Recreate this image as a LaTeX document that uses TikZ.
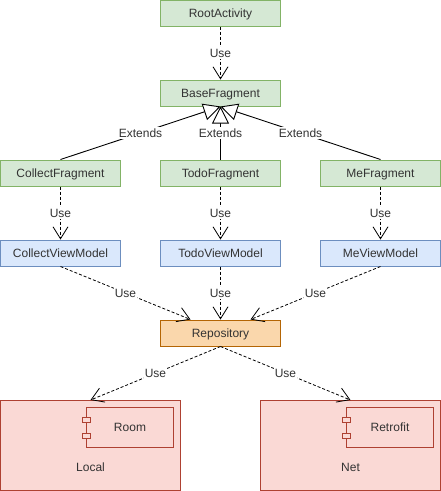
\documentclass[tikz,border=0pt]{standalone}
\usepackage{fontspec}
\setmainfont{Liberation Sans}
\definecolor{greenFill}{HTML}{D5E8D4}
\definecolor{greenLine}{HTML}{82B366}
\definecolor{blueFill}{HTML}{DAE8FC}
\definecolor{blueLine}{HTML}{6C8EBF}
\definecolor{orangeFill}{HTML}{FAD7AC}
\definecolor{orangeLine}{HTML}{B46504}
\definecolor{redFill}{HTML}{FAD9D5}
\definecolor{redLine}{HTML}{AE4132}
\definecolor{textGrey}{HTML}{333333}
\usetikzlibrary{arrows.meta, calc}
\tikzset{
  box/.style={draw, line width=1pt, minimum width=120pt, minimum height=26pt, inner sep=0pt, text=textGrey, text height=9pt, text depth=1pt},
  fragment/.style={box, fill=greenFill, draw=greenLine},
  viewmodel/.style={box, fill=blueFill, draw=blueLine},
  repo/.style={box, fill=orangeFill, draw=orangeLine},
  group/.style={draw=redLine, fill=redFill, line width=1pt, minimum width=180pt, minimum height=90pt, inner sep=0pt},
  component/.style={draw=redLine, fill=redFill, line width=1pt, minimum width=87pt, minimum height=40pt, inner sep=0pt, text=textGrey},
  port/.style={draw=redLine, fill=redFill, line width=1pt, minimum width=8pt, minimum height=5pt, inner sep=0pt},
  caption/.style={text=textGrey},
  use/.style={densely dashed, line width=0.8pt, -{Straight Barb[length=12pt,width=15pt,line width=0.8pt]}},
  extends/.style={line width=0.9pt, -{Triangle[open,length=17pt,width=17pt,fill=white,line width=0.9pt]}},
  lbl/.style={fill=white, inner sep=1pt, text=textGrey, pos=0.5, text height=9pt, text depth=1pt}
}
\begin{document}
\begin{tikzpicture}[x=1pt, y=-1pt, font=\fontsize{12}{14}\selectfont]
  \useasboundingbox (0,0) rectangle (441,491);
  % fragments
  \node[fragment] (root) at (220.5,13) {RootActivity};
  \node[fragment] (base) at (220.5,93) {BaseFragment};
  \node[fragment] (collect) at (60.5,173) {CollectFragment};
  \node[fragment] (todo) at (220.5,173) {TodoFragment};
  \node[fragment] (me) at (380.5,173) {MeFragment};
  % view models
  \node[viewmodel] (collectvm) at (60.5,253) {CollectViewModel};
  \node[viewmodel] (todovm) at (220.5,253) {TodoViewModel};
  \node[viewmodel] (mevm) at (380.5,253) {MeViewModel};
  \node[repo] (repository) at (220.5,333) {Repository};
  % local and net
  \node[group] (local) at (90.5,445.5) {};
  \node[group] (net) at (350.5,445.5) {};
  \node[caption] (localtext) at (90.5,467) {Local};
  \node[caption] (nettext) at (350.5,467) {Net};
  \node[component] (room) at (130,427) {Room\hspace{4pt}};
  \node[component] (retrofit) at (390,427) {Retrofit\hspace{4pt}};
  \node[port] (roomtop) at (86.5,419.5) {};
  \node[port] (roombottom) at (86.5,435.5) {};
  \node[port] (retrofittop) at (346.5,419.5) {};
  \node[port] (retrofitbottom) at (346.5,435.5) {};
  % connectors
  \draw[use] (root.south) -- node[lbl] (l1) {Use} (base.north);
  \draw[extends] (collect.north) -- node[lbl] (l2) {Extends} (base.south);
  \draw[extends] (me.north) -- node[lbl] (l3) {Extends} (base.south);
  \draw[extends] (todo.north) -- node[lbl] (l4) {Extends} (base.south);
  \draw[use] (collect.south) -- node[lbl] (l5) {Use} (collectvm.north);
  \draw[use] (todo.south) -- node[lbl] (l6) {Use} (todovm.north);
  \draw[use] (me.south) -- node[lbl] (l7) {Use} (mevm.north);
  \draw[use] (collectvm.south) -- node[lbl] (l8) {Use} ($(repository.north)+(-30,0)$);
  \draw[use] (todovm.south) -- node[lbl] (l9) {Use} (repository.north);
  \draw[use] (mevm.south) -- node[lbl] (l10) {Use} ($(repository.north)+(30,0)$);
  \draw[use] (repository.south) -- node[lbl] (l11) {Use} (local.north);
  \draw[use] (repository.south) -- node[lbl] (l12) {Use} (net.north);
\end{tikzpicture}
\end{document}
